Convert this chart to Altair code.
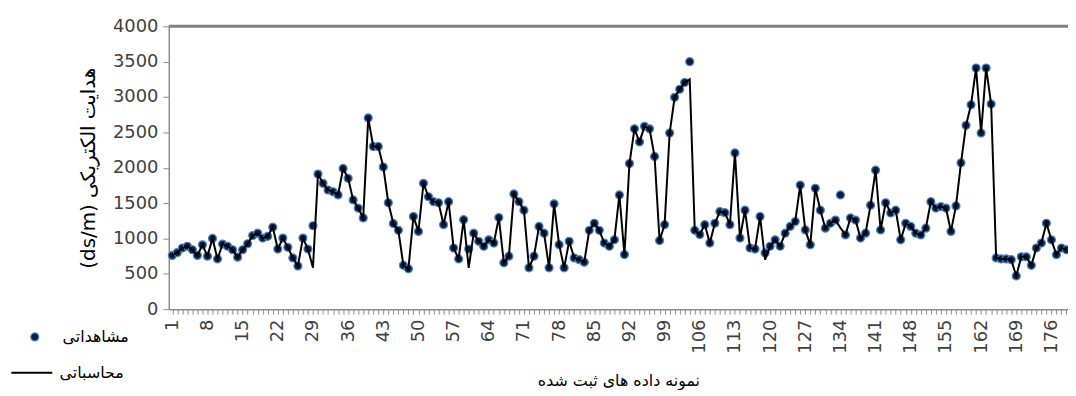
import altair as alt
import pandas as pd

X = list(range(1, 180))

OBSERVED = [
    760, 800, 865, 890, 840, 760, 910, 750, 1000, 710,
    920, 890, 840, 735, 840, 925, 1040, 1075, 1005, 1030,
    1160, 850, 1005, 875, 725, 610, 1005, 850, 1180, 1910,
    1780, 1685, 1660, 1615, 1990, 1850, 1545, 1430, 1290, 2705,
    2300, 2300, 2010, 1505, 1210, 1115, 620, 570, 1310, 1100,
    1780, 1590, 1520, 1505, 1195, 1520, 865, 710, 1265, 850,
    1075, 960, 890, 980, 935, 1295, 655, 750, 1630, 1520,
    1400, 585, 750, 1170, 1075, 585, 1490, 912, 585, 960,
    725, 700, 665, 1115, 1215, 1115, 935, 890, 980, 1615,
    772, 2060, 2550, 2365, 2585, 2550, 2160, 970, 1195, 2490,
    2995, 3110, 3205, 3500, 1115, 1055, 1195, 935, 1215, 1380,
    1365, 1195, 2210, 1005, 1400, 865, 850, 1310, 795, 890,
    980, 890, 1075, 1170, 1240, 1755, 1120, 910, 1710, 1400,
    1145, 1215, 1260, 1615, 1050, 1290, 1260, 1005, 1075, 1470,
    1965, 1120, 1505, 1360, 1400, 980, 1215, 1170, 1075, 1050,
    1145, 1520, 1430, 1450, 1430, 1100, 1460, 2070, 2600, 2890,
    3410, 2490, 3410, 2900, 725, 710, 710, 700, 470, 740,
    740, 620, 865, 935, 1215, 980, 770, 865, 840,
]

COMPUTED = [
    760, 800, 865, 890, 840, 760, 910, 750, 1000, 710,
    920, 890, 840, 735, 840, 925, 1040, 1075, 1005, 1030,
    1160, 850, 1005, 875, 725, 610, 1005, 850, 585, 1910,
    1780, 1685, 1660, 1615, 1990, 1850, 1545, 1430, 1290, 2705,
    2300, 2300, 2010, 1505, 1210, 1115, 620, 570, 1310, 1100,
    1780, 1590, 1520, 1505, 1195, 1520, 865, 710, 1265, 585,
    1075, 960, 890, 980, 935, 1295, 655, 750, 1630, 1520,
    1400, 585, 750, 1170, 1075, 585, 1490, 912, 585, 960,
    725, 700, 665, 1115, 1215, 1115, 935, 890, 980, 1615,
    772, 2060, 2550, 2365, 2585, 2550, 2160, 970, 1195, 2490,
    2995, 3110, 3205, 3250, 1115, 1055, 1195, 935, 1215, 1380,
    1365, 1195, 2210, 1005, 1400, 865, 850, 1310, 700, 890,
    980, 890, 1075, 1170, 1240, 1755, 1120, 910, 1710, 1400,
    1145, 1215, 1260, 1150, 1050, 1290, 1260, 1005, 1075, 1470,
    1965, 1120, 1505, 1360, 1400, 980, 1215, 1170, 1075, 1050,
    1145, 1520, 1430, 1450, 1430, 1100, 1460, 2070, 2600, 2890,
    3410, 2490, 3410, 2900, 725, 710, 710, 700, 470, 740,
    740, 620, 865, 935, 1215, 980, 770, 865, 840,
]

SERIES = ["مشاهداتی", "محاسباتی"]
Y_TICKS = [0, 500, 1000, 1500, 2000, 2500, 3000, 3500, 4000]
X_LABELS = list(range(1, 177, 7))
X_TITLE = "نمونه داده های ثبت شده"
Y_TITLE = "(ds/m) هدایت الکتریکی"
TOP_VALUE = [4000]

df = pd.DataFrame({
    "x": X,
    "obs": OBSERVED,
    "comp": COMPUTED,
    "obs_name": SERIES[0],
    "comp_name": SERIES[1],
})

NUM_FONT = "DejaVu Sans"
FA_FONT = "DejaVu Sans"
GREY = "#8c8c8c"

x_axis = alt.Axis(
    values=X,
    labelExpr=f"indexof({X_LABELS}, datum.value) >= 0 ? datum.label : ''",
    labelOverlap=False,
    labelFlush=False,
    labelAngle=270,
    labelFont=NUM_FONT,
    labelFontSize=18,
    labelColor="#404040",
    labelPadding=5,
    tickSize=5,
    tickColor=GREY,
    domainColor=GREY,
    domainWidth=1.5,
    grid=False,
    title=X_TITLE,
    titleFont=FA_FONT,
    titleFontSize=16,
    titleFontWeight="normal",
    titleColor="#000000",
    titlePadding=20,
)
x_scale = alt.Scale(domain=[0.3, 179.3], nice=False, zero=False)

y_axis = alt.Axis(
    values=Y_TICKS,
    format="d",
    labelFont=NUM_FONT,
    labelFontSize=18,
    labelColor="#404040",
    labelPadding=5,
    tickSize=6,
    tickColor=GREY,
    domainColor=GREY,
    domainWidth=1.5,
    grid=False,
    title=Y_TITLE,
    titleFont=FA_FONT,
    titleFontSize=20,
    titleFontWeight="normal",
    titleColor="#000000",
    titlePadding=14,
)
y_scale = alt.Scale(domain=[0, 4000], nice=False)

base = alt.Chart(df)

points = base.mark_circle(size=65, opacity=1, stroke="#4f86c6", strokeWidth=1.2).encode(
    x=alt.X("x:Q", scale=x_scale, axis=x_axis),
    y=alt.Y("obs:Q", scale=y_scale, axis=y_axis),
    fill=alt.Fill(
        "obs_name:N",
        scale=alt.Scale(domain=[SERIES[0]], range=["#0b1d40"]),
        legend=alt.Legend(
            title=None, orient="none", legendX=-143, legendY=305,
            symbolType="circle", symbolSize=65, symbolStrokeColor="#4f86c6",
            symbolStrokeWidth=1.2, symbolOpacity=1,
            labelFont=FA_FONT, labelFontSize=16, labelColor="#000000",
            labelOffset=20, padding=0,
        ),
    ),
)

line = base.mark_line(strokeWidth=2).encode(
    x=alt.X("x:Q", scale=x_scale, axis=x_axis),
    y=alt.Y("comp:Q", scale=y_scale, axis=y_axis),
    stroke=alt.Stroke(
        "comp_name:N",
        scale=alt.Scale(domain=[SERIES[1]], range=["#000000"]),
        legend=alt.Legend(
            title=None, orient="none", legendX=-160, legendY=327,
            symbolType="stroke", symbolSize=1700, symbolStrokeWidth=2,
            labelFont=FA_FONT, labelFontSize=16, labelColor="#000000",
            labelOffset=6, padding=0,
        ),
    ),
)

top = alt.Chart(pd.DataFrame({"y": TOP_VALUE})).mark_rule(color="#808080", strokeWidth=3).encode(
    y=alt.Y("y:Q", scale=y_scale, axis=y_axis)
)

chart = (
    alt.layer(points, line, top)
    .resolve_legend(fill="independent", stroke="independent")
    .properties(
        width=906,
        height=285,
        autosize=alt.AutoSizeParams(type="none"),
        padding={"left": 162, "top": 17, "right": 0, "bottom": 80},
        background="white",
    )
    .configure_view(strokeWidth=0)
    .configure_axis(labelOverlap=False)
)

chart.save("out.html", embed_options={"renderer": "svg", "actions": False})
